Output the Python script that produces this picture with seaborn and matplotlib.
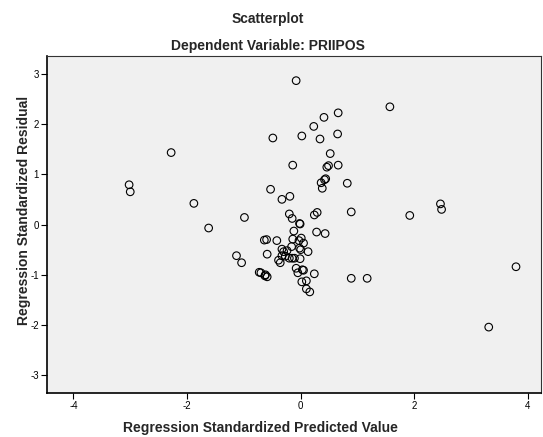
import matplotlib
matplotlib.use("Agg")
import matplotlib.pyplot as plt
import seaborn as sns
import pandas as pd

# Regression standardized predicted value (x) and residual (y)
pred = [-0.08, 1.57, 0.41, 0.66, 0.23, -0.49, 0.02, 0.34, 0.65, -2.28,
        0.52, -0.14, 0.46, 0.49, 0.66, -3.02, -3.00, -0.53, 0.36, 0.42,
        0.44, 0.38, 0.82, -0.33, -0.19, -1.88, -0.20, -0.15, 0.24, 0.29,
        0.89, 1.92, 2.46, 2.48, -0.99, -1.62, -0.02, -0.01, -0.12, 0.28,
        0.43, -0.64, -0.60, -0.42, -0.14, -0.03, 0.01, 0.05, -0.16, -0.02,
        0.00, 0.13, -0.59, -1.13, -1.04, -0.33, -0.30, -0.24, -0.33, -0.27,
        -0.20, -0.11, -0.01, -0.39, -0.36, -0.15, -0.08, -0.05, 0.03, 0.05,
        0.24, -0.73, -0.70, -0.62, -0.59, -0.63, 0.02, 0.10, 0.10, 0.16,
        0.89, 1.17, 3.79, 3.31]
resid = [2.86, 2.34, 2.13, 2.22, 1.95, 1.72, 1.76, 1.70, 1.80, 1.43,
         1.41, 1.18, 1.14, 1.17, 1.18, 0.79, 0.65, 0.70, 0.83, 0.89,
         0.91, 0.72, 0.82, 0.50, 0.56, 0.42, 0.21, 0.12, 0.19, 0.24,
         0.25, 0.18, 0.41, 0.30, 0.14, -0.07, 0.02, 0.01, -0.13, -0.15,
         -0.18, -0.31, -0.30, -0.32, -0.29, -0.32, -0.27, -0.37, -0.44, -0.47,
         -0.50, -0.54, -0.59, -0.62, -0.76, -0.49, -0.54, -0.52, -0.62, -0.63,
         -0.67, -0.67, -0.68, -0.71, -0.76, -0.67, -0.87, -0.96, -0.90, -0.91,
         -0.98, -0.95, -0.96, -1.00, -1.04, -1.02, -1.14, -1.12, -1.28, -1.34,
         -1.07, -1.07, -0.84, -2.04]

x_ticks = [-4, -2, 0, 2, 4]
y_ticks = [-3, -2, -1, 0, 1, 2, 3]

title1 = "Scatterplot"
title2 = "Dependent Variable: PRIIPOS"
x_label = "Regression Standardized Predicted Value"
y_label = "Regression Standardized Residual"

df = pd.DataFrame({"pred": pred, "resid": resid})

sns.set_style("white")
plt.rcParams["font.family"] = ["Liberation Sans", "DejaVu Sans"]

fig = plt.figure(figsize=(5.43, 4.37), dpi=100)
ax = fig.add_axes([47.3 / 543, 1 - 393 / 437, (541 - 47.3) / 543, (393 - 56) / 437])
ax.set_facecolor("#F0F0F0")

sns.scatterplot(data=df, x="pred", y="resid", ax=ax, marker="o", s=30,
                facecolors="none", edgecolor="black", linewidth=0.8, legend=False)

ax.set_xlim(-4.46, 4.23)
ax.set_ylim(-3.35, 3.35)
ax.set_xticks(x_ticks)
ax.set_yticks(y_ticks)
ax.set_xticklabels([str(t) for t in x_ticks])
ax.set_yticklabels([str(t) for t in y_ticks])
ax.tick_params(axis="both", direction="out", length=4, width=0.8, colors="black",
               labelsize=7, pad=2, bottom=True, left=True)
ax.set_xlabel("")
ax.set_ylabel("")
for side in ["top", "right"]:
    ax.spines[side].set_linewidth(0.8)
    ax.spines[side].set_color("#333333")
for side in ["left", "bottom"]:
    ax.spines[side].set_linewidth(1.2)
    ax.spines[side].set_color("black")

fig.text(268 / 543, 1 - 19 / 437, title1, ha="center", va="center",
         fontsize=10, fontweight="bold")
fig.text(268 / 543, 1 - 46 / 437, title2, ha="center", va="center",
         fontsize=10, fontweight="bold")
fig.text(260 / 543, 1 - 428 / 437, x_label, ha="center", va="center",
         fontsize=10, fontweight="bold")
fig.text(24 / 543, 1 - 210 / 437, y_label, ha="center", va="center",
         fontsize=10, fontweight="bold", rotation=90)

fig.savefig("out.png", dpi=100, facecolor="white")
